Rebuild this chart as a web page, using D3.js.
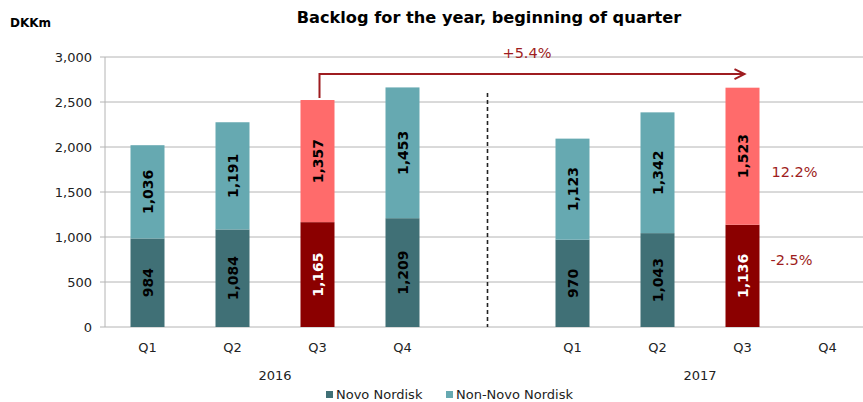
<!DOCTYPE html>
<html>
<head>
<meta charset="utf-8">
<script src="https://cdn.jsdelivr.net/npm/d3@7"></script>
<style>
  body { margin: 0; background: #fff; }
  text { font-family: "DejaVu Sans", Verdana, sans-serif; }
</style>
</head>
<body>
<div id="chart"></div>
<script>
// data
const years = ["2016", "2017"];
const quarters = ["Q1", "Q2", "Q3", "Q4"];
// slot keys, with an empty gap slot between the years
const slots = ["2016-Q1", "2016-Q2", "2016-Q3", "2016-Q4", "gap", "2017-Q1", "2017-Q2", "2017-Q3", "2017-Q4"];
const barKeys = ["2016-Q1", "2016-Q2", "2016-Q3", "2016-Q4", "2017-Q1", "2017-Q2", "2017-Q3"];
const novo = [984, 1084, 1165, 1209, 970, 1043, 1136];
const nonNovo = [1036, 1191, 1357, 1453, 1123, 1342, 1523];
const highlight = ["2016-Q3", "2017-Q3"];
const yTicks = [0, 500, 1000, 1500, 2000, 2500, 3000];
const seriesNames = ["Novo Nordisk", "Non-Novo Nordisk"];
const growthTotal = "+5.4%";
const growthNon = "12.2%";
const growthNovo = "-2.5%";

const W = 863, H = 402;
const colors = {
  novo: "#407076", non: "#66a9b1",
  novoHi: "#8b0000", nonHi: "#ff6b6b",
  note: "#9e1c20", grid: "#b4b4b4"
};

const svg = d3.select("#chart").append("svg")
  .attr("width", W).attr("height", H);

const x = d3.scaleBand().domain(slots).range([105, 870]).padding(0);
const y = d3.scaleLinear().domain([0, 3000]).range([327, 57]);
const barW = x.bandwidth() * 0.4;
const cx = k => x(k) + x.bandwidth() / 2;

// title and unit
svg.append("text").attr("x", 489).attr("y", 23).attr("text-anchor", "middle")
  .style("font-weight", "bold").style("font-size", "16.2px")
  .text("Backlog for the year, beginning of quarter");
svg.append("text").attr("x", 10).attr("y", 27)
  .style("font-weight", "bold").style("font-size", "12px").text("DKKm");

// gridlines + y axis
const g = svg.append("g");
g.selectAll("line.grid").data(yTicks).enter().append("line")
  .attr("class", "grid")
  .attr("x1", 100).attr("x2", W)
  .attr("y1", d => y(d)).attr("y2", d => y(d))
  .attr("stroke", colors.grid).attr("stroke-width", 1);
g.append("line").attr("x1", 105).attr("x2", 105)
  .attr("y1", y(3000)).attr("y2", y(0)).attr("stroke", colors.grid);
g.selectAll("text.ytick").data(yTicks).enter().append("text")
  .attr("x", 92).attr("y", d => y(d)).attr("dy", "0.35em")
  .attr("text-anchor", "end").style("font-size", "13px").style("fill", "#222")
  .text(d => d3.format(",")(d));

// bars
const rows = barKeys.map((k, i) => ({ k, novo: novo[i], non: nonNovo[i], hi: highlight.includes(k) }));
const bars = svg.append("g").selectAll("g").data(rows).enter().append("g");
bars.append("rect")
  .attr("x", d => cx(d.k) - barW / 2).attr("width", barW)
  .attr("y", d => y(d.novo)).attr("height", d => y(0) - y(d.novo))
  .attr("fill", d => d.hi ? colors.novoHi : colors.novo);
bars.append("rect")
  .attr("x", d => cx(d.k) - barW / 2).attr("width", barW)
  .attr("y", d => y(d.novo + d.non)).attr("height", d => y(d.novo) - y(d.novo + d.non))
  .attr("fill", d => d.hi ? colors.nonHi : colors.non);

function barLabel(sel, val, mid, white) {
  sel.append("text")
    .attr("transform", d => `translate(${cx(d.k)},${y(mid(d))}) rotate(-90)`)
    .attr("text-anchor", "middle").attr("dy", "0.36em")
    .style("font-weight", "bold").style("font-size", "14px")
    .style("fill", d => white(d) ? "#fff" : "#000")
    .text(d => d3.format(",")(val(d)));
}
barLabel(bars, d => d.novo, d => d.novo / 2, d => d.hi);
barLabel(bars, d => d.non, d => d.novo + d.non / 2, d => false);

// year divider
svg.append("line").attr("x1", cx("gap")).attr("x2", cx("gap"))
  .attr("y1", y(2600)).attr("y2", y(0))
  .attr("stroke", "#222").attr("stroke-width", 1.6).attr("stroke-dasharray", "4,3");

// category + year labels
const qLabels = slots.filter(s => s !== "gap");
svg.selectAll("text.q").data(qLabels).enter().append("text")
  .attr("x", d => cx(d)).attr("y", 347).attr("dy", "0.35em")
  .attr("text-anchor", "middle").style("font-size", "13px").style("fill", "#222")
  .text(d => d.split("-")[1]);
svg.selectAll("text.yr").data(years).enter().append("text")
  .attr("x", d => (cx(d + "-" + quarters[0]) + cx(d + "-" + quarters[3])) / 2)
  .attr("y", 375).attr("dy", "0.35em")
  .attr("text-anchor", "middle").style("font-size", "13px").style("fill", "#222")
  .text(d => d);

// growth arrow from 2016 Q3 to 2017 Q3
const a0 = cx("2016-Q3"), a1 = cx("2017-Q3");
const top0 = y(novo[2] + nonNovo[2]) - 2;
const ay = y(2810);
svg.append("path")
  .attr("d", `M${a0 + 2},${top0} V${ay} H${a1 + 2}`)
  .attr("fill", "none").attr("stroke", colors.note).attr("stroke-width", 2);
svg.append("path")
  .attr("d", `M${a1 - 8},${ay - 5} L${a1 + 2},${ay} L${a1 - 8},${ay + 5}`)
  .attr("fill", "none").attr("stroke", colors.note).attr("stroke-width", 2);
svg.append("text").attr("x", (a0 + a1) / 2 - 3).attr("y", y(3040)).attr("dy", "0.35em")
  .attr("text-anchor", "middle").style("font-size", "14.5px").style("fill", colors.note)
  .text(growthTotal);
svg.append("text").attr("x", cx("2017-Q3") + 29).attr("y", y(1725)).attr("dy", "0.35em")
  .style("font-size", "14.5px").style("fill", colors.note).text(growthNon);
svg.append("text").attr("x", cx("2017-Q3") + 28).attr("y", y(744)).attr("dy", "0.35em")
  .style("font-size", "14.5px").style("fill", colors.note).text(growthNovo);

// legend
const lg = svg.append("g");
const lx = [326, 446];
const lc = [colors.novo, colors.non];
seriesNames.forEach((n, i) => {
  lg.append("rect").attr("x", lx[i]).attr("y", 391).attr("width", 7).attr("height", 7).attr("fill", lc[i]);
  lg.append("text").attr("x", lx[i] + 10).attr("y", 394.5).attr("dy", "0.35em")
    .style("font-size", "13px").style("fill", "#222").text(n);
});
</script>
</body>
</html>
